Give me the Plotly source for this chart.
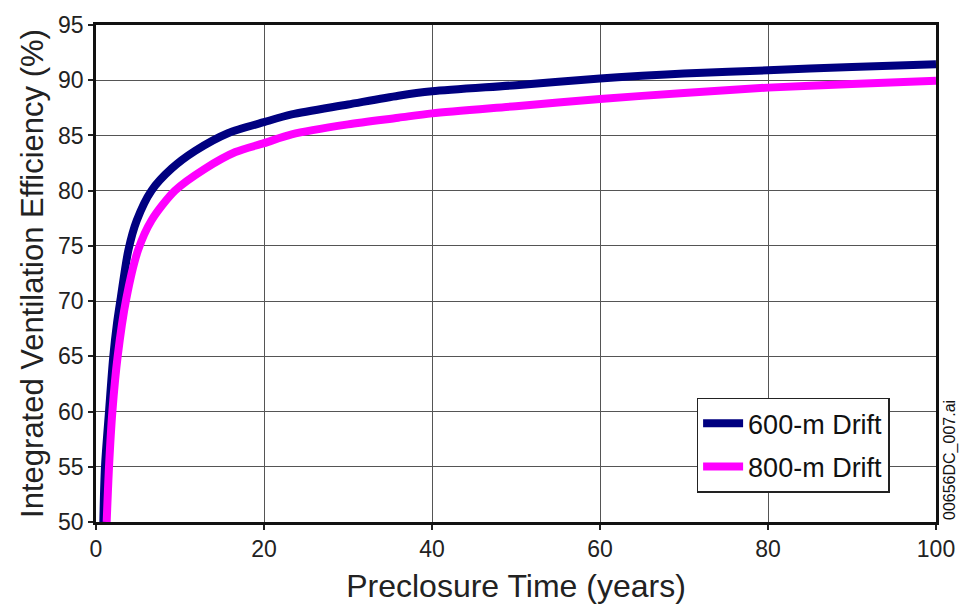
import plotly.graph_objects as go

t_600 = [0.87, 1.07, 1.55, 2.06, 2.5, 2.95, 3.85, 4.85, 6.6, 9, 11.8, 15.7, 20, 23.3, 30, 36, 40, 50, 60, 65, 70, 80, 90, 100]
v_600 = [50, 55, 60, 65, 68, 70.3, 74.6, 77.3, 80.0, 82.0, 83.6, 85.2, 86.2, 86.9, 87.8, 88.6, 89.0, 89.55, 90.15, 90.4, 90.6, 90.9, 91.2, 91.45]

t_800 = [1.27, 1.55, 1.95, 2.58, 3.6, 5.0, 6.6, 9.4, 13, 16.6, 20, 23.3, 30, 36, 40, 50, 60, 70, 80, 90, 100]
v_800 = [50, 55, 60, 65, 70.2, 74.6, 77.3, 80.0, 82.0, 83.5, 84.3, 85.1, 86.0, 86.6, 87.0, 87.65, 88.3, 88.85, 89.33, 89.65, 89.95]

names = ["600-m Drift", "800-m Drift"]
colors = ["#000080", "#FF00FF"]

x_ticks = [0, 20, 40, 60, 80, 100]
y_ticks = [50, 55, 60, 65, 70, 75, 80, 85, 90, 95]

FONT = "Liberation Sans, Arial, sans-serif"

fig = go.Figure()
for i, (t, v, n, c) in enumerate([(t_600, v_600, names[0], colors[0]), (t_800, v_800, names[1], colors[1])]):
    fig.add_trace(go.Scatter(x=t, y=v, mode="lines", name=n, legendgroup=f"g{i}",
                             line=dict(color=c, width=8, shape="spline", smoothing=0.8)))

fig.update_layout(
    width=967, height=611,
    margin=dict(l=96, r=28, t=17, b=86),
    paper_bgcolor="white", plot_bgcolor="white",
    font=dict(family=FONT, color="#222", size=22),
    showlegend=True,
    legend=dict(x=0.715, y=0.250, xanchor="left", yanchor="top",
                bgcolor="white", bordercolor="#222", borderwidth=1.5,
                font=dict(family=FONT, size=27, color="#111"),
                traceorder="grouped", tracegroupgap=5, itemwidth=40,
                entrywidth=150, entrywidthmode="pixels"),
)
fig.update_xaxes(
    range=[0, 100], tickvals=x_ticks, ticks="outside", ticklen=5, tickwidth=1.5, tickcolor="#222",
    showline=True, linecolor="#111", linewidth=2.5, mirror=True,
    showgrid=True, gridcolor="#555", gridwidth=1, zeroline=False,
    tickfont=dict(size=23, family=FONT),
    title=dict(text="Preclosure Time (years)", font=dict(size=32, family=FONT), standoff=14),
)
fig.update_yaxes(
    range=[50, 95], tickvals=y_ticks, ticks="outside", ticklen=5, tickwidth=1.5, tickcolor="#222",
    showline=True, linecolor="#111", linewidth=2.5, mirror=True,
    showgrid=True, gridcolor="#555", gridwidth=1, zeroline=False,
    tickfont=dict(size=23, family=FONT),
    title=dict(text="Integrated Ventilation Efficiency (%)", font=dict(size=31, family=FONT), standoff=6),
)
fig.add_annotation(text="00656DC_007.ai", textangle=-90, xref="paper", yref="paper",
                   x=1.0, y=0.0, xshift=14, xanchor="center", yanchor="bottom",
                   showarrow=False, font=dict(size=16, family=FONT, color="#111"))

fig.write_html("out.html")
